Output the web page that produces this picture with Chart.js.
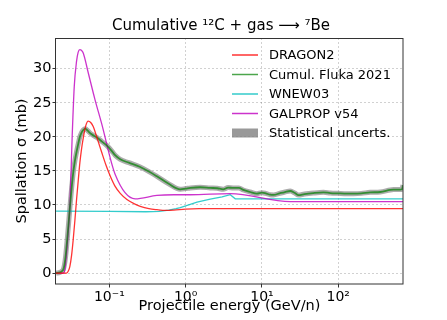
<!DOCTYPE html>
<html>
<head>
<meta charset="utf-8">
<script src="https://cdn.jsdelivr.net/npm/chart.js@4.4.1/dist/chart.umd.min.js"></script>
<style>
  html, body { margin: 0; padding: 0; background: #fff; }
</style>
</head>
<body>
<canvas id="spallChart" width="447" height="320"></canvas>
<script>
// projectile energy (GeV/n) and cross sections (mb)
const dragonE = [0.02, 0.0275, 0.0290, 0.0304, 0.0320, 0.0336, 0.0354, 0.0372, 0.0392, 0.0411, 0.0432, 0.0455, 0.0490, 0.0529, 0.0570, 0.0615, 0.0670, 0.0715, 0.079, 0.090, 0.103, 0.118, 0.139, 0.17, 0.21, 0.254, 0.33, 0.42, 0.55, 0.70, 1.0, 1.5, 10, 100, 705];
const dragonXS = [0, 0, 0.3, 1.0, 2.6, 4.9, 7.8, 10.8, 13.7, 16.2, 18.2, 19.8, 21.6, 22.3, 22.1, 21.5, 20.3, 19.3, 17.8, 15.9, 14.2, 12.8, 11.7, 10.8, 10.2, 9.8, 9.45, 9.3, 9.2, 9.25, 9.4, 9.45, 9.45, 9.45, 9.45];

const flukaE = [0.02, 0.0225, 0.0240, 0.0249, 0.0258, 0.0267, 0.0285, 0.0304, 0.0320, 0.0336, 0.0354, 0.0372, 0.0392, 0.0411, 0.0432, 0.0455, 0.0485, 0.0520, 0.0580, 0.0687, 0.080, 0.093, 0.108, 0.119, 0.139, 0.18, 0.25, 0.33, 0.42, 0.60, 0.85, 1.0, 1.15, 1.55, 2.1, 2.6, 3.1, 3.6, 4.2, 5.0, 5.7, 7.0, 8.6, 10.0, 11.2, 12.8, 14.2, 17, 20, 23.5, 27, 30.2, 36, 47, 64, 78.5, 100, 130, 158, 200, 262, 355, 480, 531, 600, 649, 684, 705];
const flukaXS = [0, 0.1, 0.3, 0.5, 1.2, 2.4, 5.8, 9.6, 12.4, 14.7, 16.5, 17.8, 19.0, 20.0, 20.6, 21.0, 21.2, 20.9, 20.4, 19.9, 19.3, 18.7, 17.9, 17.3, 16.7, 16.2, 15.6, 14.9, 14.2, 13.1, 12.3, 12.4, 12.5, 12.6, 12.5, 12.45, 12.3, 12.55, 12.5, 12.5, 12.2, 11.9, 11.65, 11.8, 11.7, 11.5, 11.47, 11.7, 11.9, 12.05, 11.75, 11.45, 11.6, 11.75, 11.85, 11.75, 11.7, 11.66, 11.66, 11.7, 11.85, 11.9, 12.2, 12.25, 12.25, 12.25, 12.3, 12.9];

const wnewE = [0.02, 0.1, 0.3, 0.45, 0.6, 0.75, 0.85, 1.0, 1.15, 1.41, 2.1, 3.0, 3.84, 4.47, 10, 100, 705];
const wnewXS = [9.08, 9.05, 9.0, 9.05, 9.25, 9.45, 9.6, 9.85, 10.1, 10.4, 10.85, 11.2, 11.5, 10.9, 10.9, 10.9, 10.9];

const galpropE = [0.02, 0.0252, 0.0262, 0.0275, 0.0290, 0.0304, 0.0326, 0.0347, 0.0372, 0.0390, 0.0411, 0.0430, 0.0455, 0.0529, 0.0647, 0.079, 0.119, 0.218, 0.42, 0.7, 1.15, 3.84, 23.5, 705];
const galpropXS = [0, 0, 0.6, 2.9, 6.2, 9.8, 20.1, 27.4, 31.1, 32.4, 32.8, 32.7, 32.3, 29.4, 25.5, 22.0, 14.5, 10.9, 11.4, 11.5, 11.5, 11.65, 10.5, 10.5];

const xTickValues = [0.1, 1, 10, 100];
const xTickLabels = ['10\u207B\u00B9', '10\u2070', '10\u00B9', '10\u00B2'];
const yTickValues = [0, 5, 10, 15, 20, 25, 30];

const legendItems = [
  {label: 'DRAGON2', color: 'rgba(255,0,0,0.8)', kind: 'line'},
  {label: 'Cumul. Fluka 2021', color: 'rgba(0,128,0,0.7)', kind: 'line'},
  {label: 'WNEW03', color: 'rgba(0,191,191,0.8)', kind: 'line'},
  {label: 'GALPROP v54', color: 'rgba(191,0,191,0.8)', kind: 'line'},
  {label: 'Statistical uncerts.', color: 'rgba(128,128,128,0.8)', kind: 'patch'}
];

function pts(xs, ys) {
  return xs.map((x, i) => ({x: x, y: ys[i]}));
}

const FONT = "'DejaVu Sans', sans-serif";
Chart.defaults.font.family = FONT;
Chart.defaults.color = '#000';

const decorations = {
  id: 'decorations',
  afterDraw(chart) {
    const c = chart.ctx;
    const a = chart.chartArea;
    c.save();
    // frame
    c.strokeStyle = '#333';
    c.lineWidth = 1;
    c.strokeRect(a.left - 0.5, a.top + 0.5, a.right - a.left + 0.5, a.bottom - a.top - 0.5);
    // title
    c.fillStyle = '#000';
    c.font = '15px ' + FONT;
    c.textAlign = 'center';
    c.textBaseline = 'alphabetic';
    c.fillText('Cumulative \u00B9\u00B2C + gas \u27F6 \u2077Be', 221, 29.5);
    // legend
    c.font = '13px ' + FONT;
    c.textAlign = 'left';
    c.textBaseline = 'middle';
    legendItems.forEach((item, i) => {
      const y = 55 + i * 19.5;
      if (item.kind === 'line') {
        c.strokeStyle = item.color;
        c.lineWidth = 1.5;
        c.beginPath();
        c.moveTo(232, y);
        c.lineTo(258, y);
        c.stroke();
      } else {
        c.fillStyle = item.color;
        c.fillRect(232, y - 4.5, 26, 9);
      }
      c.fillStyle = '#000';
      c.fillText(item.label, 269, y + 0.9);
    });
    c.restore();
  }
};

const ctx = document.getElementById('spallChart');

new Chart(ctx, {
  type: 'line',
  data: {
    datasets: [
      {
        label: 'DRAGON2',
        data: pts(dragonE, dragonXS),
        borderColor: 'rgba(255,0,0,0.8)',
        borderWidth: 1.3,
        cubicInterpolationMode: 'monotone',
        order: 1
      },
      {
        label: 'Cumul. Fluka 2021',
        data: pts(flukaE, flukaXS),
        borderColor: 'rgba(0,128,0,0.7)',
        borderWidth: 1.8,
        cubicInterpolationMode: 'monotone',
        order: 2
      },
      {
        label: 'WNEW03',
        data: pts(wnewE, wnewXS),
        borderColor: 'rgba(0,191,191,0.8)',
        borderWidth: 1.3,
        order: 4
      },
      {
        label: 'GALPROP v54',
        data: pts(galpropE, galpropXS),
        borderColor: 'rgba(191,0,191,0.8)',
        borderWidth: 1.3,
        cubicInterpolationMode: 'monotone',
        order: 3
      },
      {
        label: 'Statistical uncerts.',
        data: pts(flukaE, flukaXS),
        borderColor: 'rgba(128,128,128,0.65)',
        borderWidth: 5,
        cubicInterpolationMode: 'monotone',
        order: 5
      }
    ]
  },
  options: {
    responsive: false,
    animation: false,
    devicePixelRatio: 1,
    clip: 0,
    elements: { point: { radius: 0 } },
    layout: { padding: { top: 38, right: 44, left: 0, bottom: 0 } },
    plugins: {
      legend: { display: false },
      tooltip: { enabled: false }
    },
    scales: {
      x: {
        type: 'logarithmic',
        min: 0.02,
        max: 705,
        afterBuildTicks: (scale) => { scale.ticks = xTickValues.map(v => ({value: v})); },
        afterFit: (scale) => { scale.height = 36; },
        ticks: {
          autoSkip: false,
          maxRotation: 0,
          padding: 1,
          font: { size: 14 },
          callback: (v) => xTickLabels[xTickValues.indexOf(v)]
        },
        grid: { color: 'rgba(0,0,0,0.18)', tickColor: '#333', tickLength: 3.5 },
        border: { display: false, dash: [2, 2] },
        title: {
          display: true,
          text: 'Projectile energy (GeV/n)',
          font: { size: 14.5 },
          padding: { top: 0, bottom: 5 }
        }
      },
      y: {
        min: -1.6,
        max: 34.5,
        afterBuildTicks: (scale) => { scale.ticks = yTickValues.map(v => ({value: v})); },
        afterFit: (scale) => { scale.width = 56; },
        ticks: { padding: 1, font: { size: 14.5 } },
        grid: { color: 'rgba(0,0,0,0.18)', tickColor: '#333', tickLength: 3.5 },
        border: { display: false, dash: [2, 2] },
        title: {
          display: true,
          text: 'Spallation \u03C3 (mb)',
          font: { size: 14.5 },
          padding: { top: 14, bottom: 0 }
        }
      }
    }
  },
  plugins: [decorations]
});
</script>
</body>
</html>
